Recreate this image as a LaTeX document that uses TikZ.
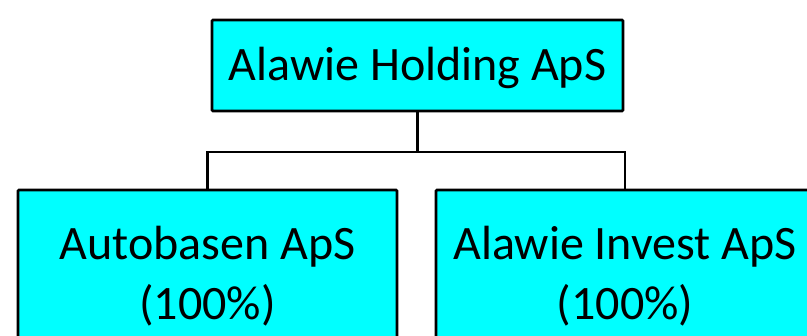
\documentclass[tikz,border=0pt]{standalone}
\usepackage{fontspec}
\setmainfont{Carlito}
\definecolor{boxcyan}{RGB}{0,255,255}
\begin{document}
\begin{tikzpicture}[x=1pt,y=1pt]
\tikzstyle{every node}+=[inner sep=0pt]
\tikzstyle{firm}=[draw=black, line width=2.6pt, fill=boxcyan, rounded corners=1pt, align=center, font=\fontsize{48}{60}\selectfont]
\tikzstyle{link}=[black, line width=2.4pt]
\useasboundingbox (0,0) rectangle (807,336);
\clip (0,0) rectangle (807,336);
\node [firm, minimum width=411, minimum height=91, text height=31, text depth=0] (holding) at (417.5,270.5) {Alawie Holding ApS};
\node [firm, minimum width=379, minimum height=172] (autobasen) at (207.5,60) {Autobasen ApS\\(100\%)};
\node [firm, minimum width=378, minimum height=172] (invest) at (625,60) {Alawie Invest ApS\\(100\%)};
\draw [link] (holding.south) -- ++(0,-40) -| (autobasen.north);
\draw [link] (holding.south) -- ++(0,-40) -| (invest.north);
\end{tikzpicture}
\end{document}
